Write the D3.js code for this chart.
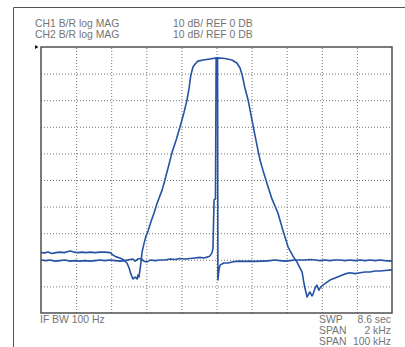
<!DOCTYPE html>
<html>
<head>
<meta charset="utf-8">
<script src="https://cdn.jsdelivr.net/npm/d3@7"></script>
<style>
  body { margin: 0; background: #fff; }
  svg { display: block; }
  .lbl { font-family: "Liberation Sans", Arial, sans-serif; font-size: 10.4px; fill: #747474; }
</style>
</head>
<body>
<div id="chart"></div>
<script>
// header / footer annotation lines
const headerLeft = ["CH1 B/R log MAG", "CH2 B/R log MAG"];
const headerRight = ["10 dB/ REF 0 DB", "10 dB/ REF 0 DB"];
const footerNames = ["SWP", "SPAN", "SPAN"];
const footerValues = ["8.6 sec", "2 kHz", "100 kHz"];
const ifBandwidth = "IF BW 100 Hz";

// grid: 10 divisions across, 10 dB/div down from REF 0 dB
const xDivs = d3.range(0, 11);
const yTicks = d3.range(-100, 1, 10);

// CH1 trace (wide filter response), [division, dB]
const ch1Trace = [
  [0, -77.3], [0.11, -77.4], [0.20, -77.1], [0.31, -77.6], [0.43, -77.3], [0.54, -77.1],
  [0.66, -77.3], [0.77, -76.9], [0.83, -76.7], [0.94, -77.1], [1.05, -77.3], [1.17, -77.1],
  [1.28, -77.3], [1.40, -77.1], [1.54, -77.3], [1.68, -77.1], [1.82, -77.1], [1.97, -77.3],
  [2.05, -78.2], [2.14, -78.9], [2.25, -79.3], [2.36, -80.1], [2.45, -81.2], [2.51, -83.1],
  [2.56, -85.3], [2.62, -87.2], [2.68, -86.5], [2.74, -87.2], [2.76, -85.7], [2.79, -86.5],
  [2.82, -83.8], [2.85, -80.8], [2.88, -77.1], [2.93, -74.1], [2.99, -71.1], [3.05, -69.2],
  [3.13, -65.8], [3.22, -62.4], [3.30, -59.0], [3.45, -53.8], [3.53, -50.0], [3.62, -45.5],
  [3.73, -39.8], [3.85, -35.0], [3.96, -30.1], [4.07, -24.8], [4.16, -19.9], [4.22, -15.4],
  [4.27, -10.5], [4.33, -7.5], [4.39, -6.4], [4.47, -5.3], [4.62, -4.9], [4.81, -4.5],
  [5.01, -4.1], [5.24, -4.3], [5.44, -4.9], [5.58, -6.0], [5.67, -7.9], [5.73, -10.5],
  [5.81, -15.4], [5.90, -19.9], [6.01, -27.4], [6.15, -36.8], [6.24, -42.5], [6.32, -46.2],
  [6.47, -52.6], [6.58, -57.1], [6.75, -62.4], [6.89, -68.8], [7.04, -75.2], [7.18, -78.6],
  [7.29, -80.8], [7.38, -83.1], [7.44, -84.6], [7.49, -88.7], [7.52, -90.6], [7.58, -94.0],
  [7.64, -92.5], [7.66, -92.1], [7.72, -93.6], [7.75, -92.9], [7.81, -90.6], [7.86, -89.5],
  [7.92, -91.4], [7.95, -90.6], [8.03, -89.5], [8.12, -88.7], [8.23, -87.6], [8.38, -86.8],
  [8.52, -86.1], [8.66, -85.3], [8.80, -84.9], [8.95, -85.2], [9.09, -84.9], [9.23, -84.6],
  [9.37, -84.6], [9.52, -84.2], [9.66, -84.2], [9.80, -84.0], [10, -83.8]
];

// CH2 trace (narrow response), [division, dB]
const ch2Trace = [
  [0, -80.1], [0.14, -80.3], [0.26, -80.1], [0.40, -80.5], [0.54, -80.3], [0.68, -80.1],
  [0.83, -80.5], [0.97, -80.3], [1.11, -80.5], [1.25, -80.3], [1.40, -80.5], [1.54, -80.3],
  [1.68, -80.1], [1.82, -80.3], [1.97, -80.1], [2.11, -80.3], [2.25, -80.5], [2.39, -80.3],
  [2.54, -79.9], [2.62, -79.7], [2.68, -80.5], [2.76, -79.7], [2.85, -79.5], [2.93, -80.5],
  [3.02, -80.8], [3.11, -80.1], [3.25, -80.3], [3.39, -80.1], [3.53, -80.1], [3.68, -79.7],
  [3.82, -79.9], [3.96, -79.5], [4.10, -79.7], [4.25, -79.5], [4.39, -79.3], [4.53, -79.1],
  [4.64, -79.3], [4.76, -78.9], [4.81, -78.6], [4.87, -77.4], [4.90, -75.6], [4.93, -57.5],
  [4.97, -57.1], [4.99, -4.1], [5.03, -4.1], [5.04, -87.6], [5.07, -83.8], [5.10, -82.0],
  [5.21, -81.2], [5.33, -81.2], [5.44, -80.8], [5.56, -80.6], [5.67, -80.5], [5.81, -80.6],
  [5.95, -80.5], [6.10, -80.6], [6.24, -80.5], [6.38, -80.5], [6.52, -80.3], [6.67, -80.1],
  [6.81, -80.3], [6.95, -80.5], [7.09, -80.3], [7.24, -80.1], [7.38, -80.1], [7.52, -80.1],
  [7.66, -79.9], [7.81, -80.1], [7.95, -80.3], [8.09, -80.1], [8.23, -80.3], [8.38, -80.1],
  [8.52, -80.1], [8.66, -80.3], [8.80, -80.1], [8.95, -80.3], [9.09, -80.1], [9.23, -80.3],
  [9.37, -80.1], [9.52, -80.3], [9.66, -80.1], [9.80, -80.3], [10, -80.5]
];

const W = 405, H = 347;
const plot = {left: 41, right: 392, top: 47, bottom: 313};
const traceColor = "#2552a3";

const svg = d3.select("#chart").append("svg")
  .attr("width", W)
  .attr("height", H);

const x = d3.scaleLinear().domain([0, 10]).range([plot.left, plot.right]);
const y = d3.scaleLinear().domain([-100, 0]).range([plot.bottom, plot.top]);

// outer frame (top + left edges only)
svg.append("path")
  .attr("d", `M13.5,${H} L13.5,7.5 L${W},7.5`)
  .attr("fill", "none")
  .attr("stroke", "#555")
  .attr("stroke-width", 1);

// header text
headerLeft.forEach((t, i) => {
  svg.append("text").attr("class", "lbl")
    .attr("x", 35).attr("y", 27 + i * 10.8).text(t);
  svg.append("text").attr("class", "lbl")
    .attr("x", 173).attr("y", 27 + i * 10.8).text(headerRight[i]);
});

// grid lines
const gridX = svg.append("g")
  .attr("transform", `translate(0,${plot.bottom})`)
  .call(d3.axisBottom(x).tickValues(xDivs.slice(1, -1)).tickSize(-(plot.bottom - plot.top)).tickFormat(""));
const gridY = svg.append("g")
  .attr("transform", `translate(${plot.left},0)`)
  .call(d3.axisLeft(y).tickValues(yTicks.slice(1, -1)).tickSize(-(plot.right - plot.left)).tickFormat(""));
[gridX, gridY].forEach(g => {
  g.select(".domain").remove();
  g.selectAll("line")
    .attr("stroke", "#777")
    .attr("stroke-width", 1)
    .attr("stroke-dasharray", "1,2");
});

// plot border
svg.append("rect")
  .attr("x", plot.left)
  .attr("y", plot.top)
  .attr("width", plot.right - plot.left)
  .attr("height", plot.bottom - plot.top)
  .attr("fill", "none")
  .attr("stroke", "#444")
  .attr("stroke-width", 1.4);

// reference marker at REF 0 dB
const refY = y(0);
svg.append("path")
  .attr("d", `M35,${refY - 2} L38.5,${refY} L35,${refY + 2} Z`)
  .attr("fill", "#111");

// traces
const line = d3.line()
  .x(d => x(d[0]))
  .y(d => y(d[1]));

svg.append("defs").append("clipPath").attr("id", "clip")
  .append("rect")
  .attr("x", plot.left).attr("y", plot.top - 2)
  .attr("width", plot.right - plot.left).attr("height", plot.bottom - plot.top + 2);

[ch1Trace, ch2Trace].forEach(trace => {
  svg.append("path")
    .datum(trace)
    .attr("clip-path", "url(#clip)")
    .attr("fill", "none")
    .attr("stroke", traceColor)
    .attr("stroke-width", 1.6)
    .attr("stroke-linejoin", "round")
    .attr("d", line);
});

// footer text
svg.append("text").attr("class", "lbl")
  .attr("x", 40).attr("y", 323).text(ifBandwidth);
footerNames.forEach((t, i) => {
  svg.append("text").attr("class", "lbl")
    .attr("x", 319).attr("y", 323 + i * 11).text(t);
  svg.append("text").attr("class", "lbl")
    .attr("x", 391).attr("y", 323 + i * 11)
    .attr("text-anchor", "end")
    .text(footerValues[i]);
});
</script>
</body>
</html>
